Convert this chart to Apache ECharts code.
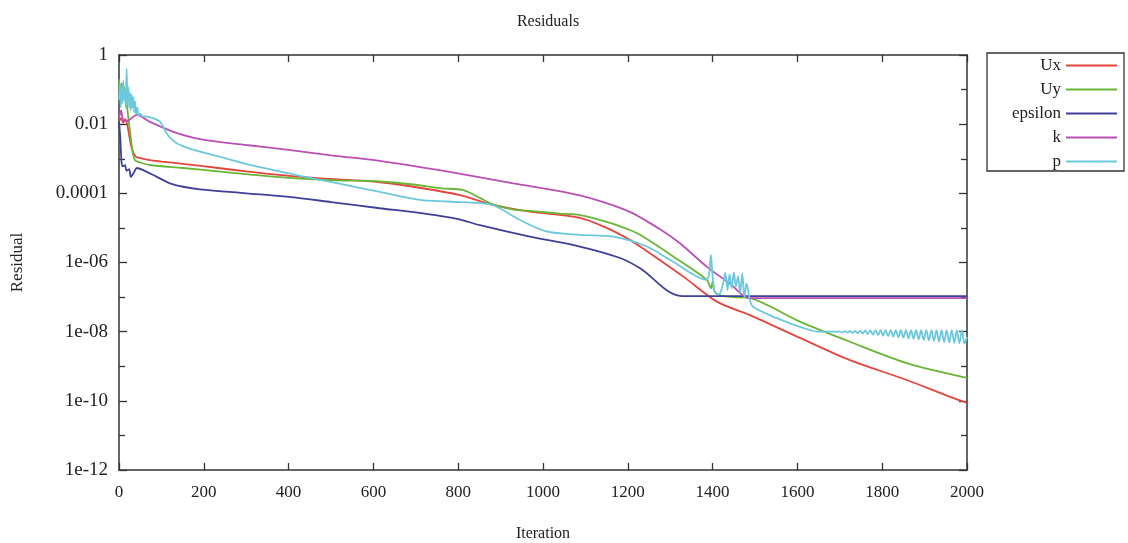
<!DOCTYPE html>
<html>
<head>
<meta charset="utf-8">
<title>Residuals</title>
<script src="https://cdn.jsdelivr.net/npm/echarts@6/dist/echarts.min.js"></script>
<style>
  html, body { margin: 0; padding: 0; background: #fff; }
  #chart { width: 1128px; height: 543px; }
</style>
</head>
<body>
<div id="chart"></div>
<script>
// Solver residual history, [iteration, residual] pairs per field
const seriesNames = ['Ux', 'Uy', 'epsilon', 'k', 'p'];

const ux = [
  [0, 1.2e-2], [5, 1.5e-2], [10, 1.1e-2], [15, 1.4e-2], [20, 9e-3], [25, 4e-3],
  [30, 2e-3], [35, 1.4e-3], [40, 1.15e-3], [50, 1.05e-3], [73, 9.1e-4], [100, 8.3e-4],
  [151, 7.1e-4], [234, 5.4e-4], [300, 4.3e-4], [400, 3.2e-4], [500, 2.6e-4],
  [600, 2.2e-4], [694, 1.55e-4], [804, 8.9e-5], [882, 4.6e-5], [969, 2.95e-5],
  [1087, 1.95e-5], [1150, 1.0e-5], [1205, 4.5e-6], [1229, 2.9e-6], [1331, 3.9e-7],
  [1410, 7.4e-8], [1488, 3.0e-8], [1606, 6.6e-9], [1724, 1.5e-9], [1858, 4.0e-10],
  [1960, 1.3e-10], [2000, 8.7e-11]
];

const uy = [
  [0, 2e-1], [3, 6e-2], [6, 1.5e-1], [9, 8e-2], [12, 1.2e-1], [15, 5e-2], [18, 4e-2],
  [22, 1.5e-2], [27, 5e-3], [32, 1.6e-3], [38, 9e-4], [50, 7.8e-4], [73, 6.6e-4],
  [151, 5.4e-4], [234, 4.3e-4], [300, 3.6e-4], [400, 2.8e-4], [500, 2.4e-4],
  [615, 2.2e-4], [694, 1.8e-4], [760, 1.4e-4], [810, 1.25e-4], [850, 7.5e-5],
  [882, 4.8e-5], [930, 3.4e-5], [969, 3.1e-5], [1040, 2.6e-5], [1087, 2.35e-5],
  [1150, 1.5e-5], [1205, 8.7e-6], [1229, 6.3e-6], [1307, 1.5e-6], [1386, 3.2e-7],
  [1396, 1.8e-7], [1400, 2.8e-7], [1405, 1.4e-7], [1420, 1.1e-7], [1450, 1.0e-7],
  [1488, 9.3e-8], [1606, 1.95e-8], [1724, 5.1e-9], [1858, 1.23e-9], [2000, 4.6e-10]
];

const epsilon = [
  [0, 1.2e-2], [3, 4e-3], [6, 8e-4], [9, 6e-4], [14, 6.5e-4], [18, 4.5e-4],
  [24, 5e-4], [28, 3.0e-4], [36, 4.2e-4], [42, 5.4e-4], [57, 4.7e-4], [89, 3.0e-4],
  [120, 1.95e-4], [151, 1.55e-4], [191, 1.3e-4], [300, 1.0e-4], [400, 7.9e-5],
  [500, 5.6e-5], [615, 3.7e-5], [700, 2.8e-5], [800, 1.8e-5], [851, 1.2e-5],
  [969, 5.6e-6], [1087, 2.9e-6], [1182, 1.35e-6], [1229, 6.8e-7], [1327, 1.07e-7],
  [2000, 1.07e-7]
];

const k = [
  [0, 1.5e-2], [5, 2.5e-2], [10, 1.3e-2], [20, 1.25e-2], [30, 1.5e-2], [42, 1.85e-2],
  [73, 1.17e-2], [128, 6e-3], [191, 3.7e-3], [300, 2.5e-3], [400, 1.8e-3],
  [500, 1.26e-3], [615, 8.7e-4], [773, 4.3e-4], [930, 1.95e-4], [1048, 1.1e-4],
  [1127, 6.4e-5], [1205, 2.9e-5], [1284, 7.9e-6], [1323, 3.6e-6], [1386, 7.6e-7],
  [1440, 2.5e-7], [1488, 9.3e-8], [2000, 9.3e-8]
];

const p = [
  [0, 5e-2], [2, 1.5e-1], [4, 3e-2], [6, 1.2e-1], [8, 4e-2], [10, 1.8e-1], [12, 5e-2],
  [14, 9e-2], [16, 3e-2], [18, 4e-1], [20, 4e-2], [22, 1.2e-1], [24, 3e-2], [26, 8e-2],
  [28, 2.5e-2], [30, 7e-2], [32, 3e-2], [34, 6e-2], [36, 2.2e-2], [38, 4.5e-2],
  [40, 2e-2], [43, 3e-2], [46, 1.8e-2], [50, 2e-2], [55, 1.7e-2], [66, 1.65e-2],
  [80, 1.5e-2], [97, 1.17e-2], [105, 8e-3], [112, 5.5e-3], [124, 3.7e-3],
  [136, 2.8e-3], [160, 2.1e-3], [191, 1.6e-3], [250, 1.05e-3], [309, 6.6e-4],
  [427, 3.2e-4], [520, 1.9e-4], [615, 1.1e-4], [710, 6.5e-5], [773, 5.8e-5],
  [851, 5.2e-5], [882, 4.6e-5], [946, 1.7e-5], [1008, 7.9e-6], [1087, 6.3e-6],
  [1166, 5.6e-6], [1245, 2.9e-6], [1307, 1.05e-6], [1386, 3.2e-7], [1392, 5e-7],
  [1396, 1.66e-6], [1400, 4e-7], [1405, 1.45e-7], [1415, 1.2e-7], [1425, 2.5e-7],
  [1430, 5e-7], [1435, 1.6e-7], [1440, 4.5e-7], [1445, 1.8e-7], [1450, 5.2e-7],
  [1455, 2e-7], [1460, 4e-7], [1465, 1.3e-7], [1470, 4.8e-7], [1475, 1.0e-7],
  [1480, 2.5e-7], [1488, 8e-8], [1496, 5.2e-8], [1550, 2.5e-8], [1606, 1.38e-8],
  [1650, 1.0e-8], [1700, 1.0e-8], [1706, 9.6e-9], [1712, 1.04e-8], [1718, 9.4e-9],
  [1724, 1.05e-8], [1730, 9.2e-9], [1736, 1.06e-8], [1742, 9.0e-9], [1748, 1.07e-8],
  [1754, 8.8e-9], [1760, 1.08e-8], [1766, 8.5e-9], [1772, 1.09e-8], [1778, 8.2e-9],
  [1784, 1.1e-8], [1790, 8.0e-9], [1796, 1.1e-8], [1802, 7.7e-9], [1808, 1.1e-8],
  [1814, 7.4e-9], [1820, 1.1e-8], [1826, 7.2e-9], [1832, 1.1e-8], [1838, 6.9e-9],
  [1844, 1.1e-8], [1850, 6.7e-9], [1856, 1.1e-8], [1862, 6.4e-9], [1868, 1.1e-8],
  [1874, 6.2e-9], [1880, 1.1e-8], [1886, 6.0e-9], [1892, 1.1e-8], [1898, 5.8e-9],
  [1904, 1.1e-8], [1910, 5.6e-9], [1916, 1.1e-8], [1922, 5.4e-9], [1928, 1.1e-8],
  [1934, 5.2e-9], [1940, 1.1e-8], [1946, 5.0e-9], [1952, 1.1e-8], [1958, 4.9e-9],
  [1964, 1.1e-8], [1970, 4.7e-9], [1976, 1.1e-8], [1982, 4.6e-9], [1988, 1.1e-8],
  [1994, 4.5e-9], [2000, 7e-9]
];

// Labels printed on every second decade of the residual axis (exponent -> text)
const yTickExponents = [0, -2, -4, -6, -8, -10, -12];
const yTickLabels = ['1', '0.01', '0.0001', '1e-06', '1e-08', '1e-10', '1e-12'];

const seriesData = [ux, uy, epsilon, k, p];
const seriesColors = ['#e4453d', '#69b636', '#3f4199', '#b850b6', '#6cc8dc'];

const FONT = 'Liberation Serif';
const INK = '#222';

// The residual axis is laid out in decades: each value is plotted at log10(value)
const toDecades = pts => pts.map(([it, r]) => [it, Math.log10(r)]);

function yLabel(e) {
  const i = yTickExponents.indexOf(Math.round(e));
  return i >= 0 ? yTickLabels[i] : '';
}

// Closed frame: every axis stays on its grid edge, ticks point inwards
const axisLine = { show: true, onZero: false, lineStyle: { color: '#333', width: 1.5 } };
const majorTick = { show: true, inside: true, length: 8, lineStyle: { color: '#333', width: 1.3 } };
const minorTick = { show: true, splitNumber: 2, length: 6, lineStyle: { color: '#333', width: 1.3 } };

const xBase = {
  type: 'value', min: 0, max: 2000, interval: 200,
  axisLine: axisLine, axisTick: Object.assign({}, majorTick, { length: 7 }),
  splitLine: { show: false }
};
const yBase = {
  type: 'value', min: -12, max: 0, interval: 2,
  axisLine: axisLine, axisTick: majorTick, minorTick: minorTick,
  splitLine: { show: false }, minorSplitLine: { show: false }
};

const chart = echarts.init(document.getElementById('chart'), null, { renderer: 'canvas' });

chart.setOption({
  backgroundColor: '#fff',
  animation: false,
  textStyle: { fontFamily: FONT },
  title: {
    text: 'Residuals', left: 543, top: 9, textAlign: 'center',
    textStyle: { fontFamily: FONT, fontSize: 16, fontWeight: 'normal', color: INK }
  },
  grid: { left: 119, right: 161, top: 55, bottom: 73, containLabel: false, outerBoundsMode: 'none' },
  legend: {
    orient: 'vertical', left: 987, top: 53, align: 'right',
    padding: [4, 7, 1, 7], itemGap: 7, itemWidth: 51, itemHeight: 2,
    icon: 'rect',
    borderColor: '#333', borderWidth: 1.3,
    data: seriesNames,
    formatter: '{n|{name}}',
    textStyle: {
      fontFamily: FONT, fontSize: 17, color: INK,
      rich: { n: { width: 67, align: 'right', fontFamily: FONT, fontSize: 17, color: INK, lineHeight: 17 } }
    }
  },
  xAxis: [
    Object.assign({}, xBase, {
      position: 'bottom',
      name: 'Iteration', nameLocation: 'middle', nameGap: 56,
      nameTextStyle: { fontFamily: FONT, fontSize: 16, color: INK },
      axisLabel: { show: true, margin: 14, fontFamily: FONT, fontSize: 17, color: INK, formatter: v => String(v) }
    }),
    Object.assign({}, xBase, { position: 'top', axisLabel: { show: false } })
  ],
  yAxis: [
    Object.assign({}, yBase, {
      position: 'left',
      name: 'Residual', nameLocation: 'middle', nameGap: 93,
      nameTextStyle: { fontFamily: FONT, fontSize: 17, color: INK },
      axisLabel: { show: true, margin: 11, fontFamily: FONT, fontSize: 19, color: INK, formatter: yLabel }
    }),
    Object.assign({}, yBase, { position: 'right', axisLabel: { show: false } })
  ],
  series: seriesNames.map((name, i) => ({
    name: name,
    type: 'line',
    xAxisIndex: 0,
    yAxisIndex: 0,
    data: toDecades(seriesData[i]),
    symbol: 'none',
    showSymbol: false,
    smooth: 0.3,
    color: seriesColors[i],
    lineStyle: { color: seriesColors[i], width: 1.8 }
  }))
});
</script>
</body>
</html>
